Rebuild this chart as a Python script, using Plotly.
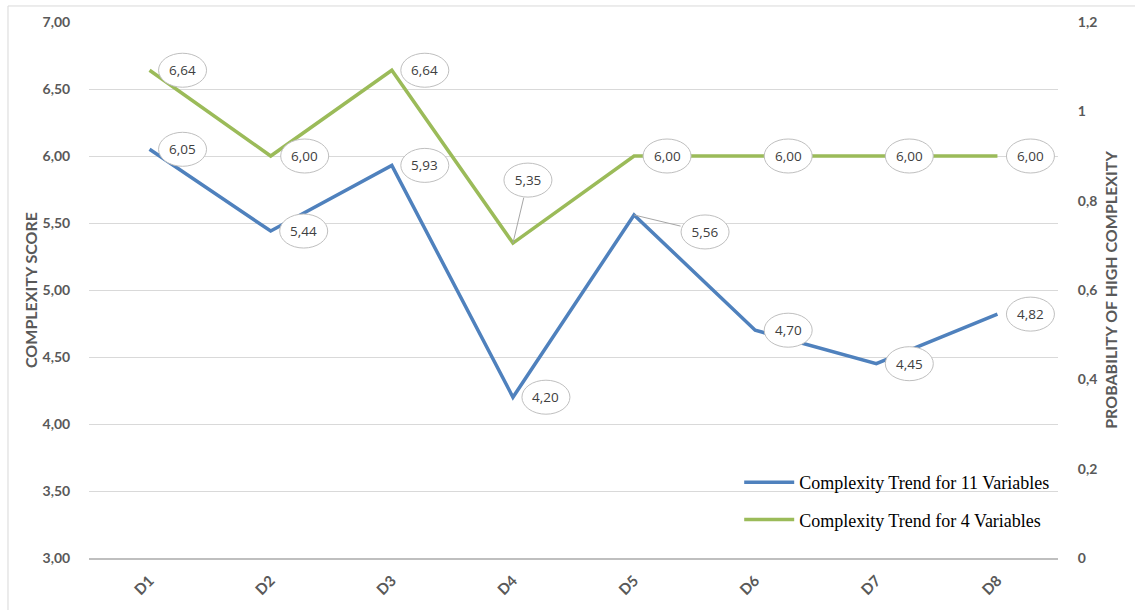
import plotly.graph_objects as go

categories = ["D1", "D2", "D3", "D4", "D5", "D6", "D7", "D8"]
trend_11 = [6.05, 5.44, 5.93, 4.20, 5.56, 4.70, 4.45, 4.82]
trend_4 = [6.64, 6.00, 6.64, 5.35, 6.00, 6.00, 6.00, 6.00]
left_ticks = [3.0, 3.5, 4.0, 4.5, 5.0, 5.5, 6.0, 6.5, 7.0]
right_ticks = [0, 0.2, 0.4, 0.6, 0.8, 1.0, 1.2]

BLUE = "#4F81BD"
GREEN = "#9BBB59"
GRAY_TXT = "#595959"

# label offsets in screen pixels (dx right, dy down); leader=True draws a connector
label_pos_11 = [(33, 0, False), (33, 0, False), (33, 0, False), (33, 0, False),
                (71, 17, True), (33, 0, False), (33, 0, False), (33, 0, False)]
label_pos_4 = [(33, 0, False), (34, 0, False), (33, 0, False), (15, -63, True),
               (33, 0, False), (33, 0, False), (33, 0, False), (33, 0, False)]

fig = go.Figure()
fig.add_trace(go.Scatter(x=categories, y=trend_11, mode="lines",
                         name="Complexity Trend for 11 Variables",
                         line=dict(color=BLUE, width=3.5), legendgroup="a"))
fig.add_trace(go.Scatter(x=categories, y=trend_4, mode="lines",
                         name="Complexity Trend for 4 Variables",
                         line=dict(color=GREEN, width=3.5), legendgroup="b"))
# empty trace to anchor the secondary axis
fig.add_trace(go.Scatter(x=[], y=[], yaxis="y2", showlegend=False, hoverinfo="skip"))

shapes = []
annotations = []
EW, EH = 24, 17
lblfont = dict(family="Open Sans", size=13.5, color="#404040")
for series, offsets in ((trend_11, label_pos_11), (trend_4, label_pos_4)):
    for i, (v, (dx, dy, leader)) in enumerate(zip(series, offsets)):
        shapes.append(dict(type="circle", xref="x", yref="y",
                           xsizemode="pixel", ysizemode="pixel",
                           xanchor=i, yanchor=v,
                           x0=dx - EW, x1=dx + EW, y0=-dy - EH, y1=-dy + EH,
                           line=dict(color="#BFBFBF", width=1),
                           fillcolor="white", layer="above"))
        txt = f"{v:.2f}".replace(".", ",")
        if leader:
            annotations.append(dict(x=i, y=v, xref="x", yref="y", text=txt,
                                    showarrow=True, arrowhead=0, arrowwidth=1,
                                    arrowcolor="#A6A6A6", ax=dx, ay=dy,
                                    width=46, height=32, standoff=0,
                                    font=lblfont))
        else:
            annotations.append(dict(x=i, y=v, xref="x", yref="y", text=txt,
                                    showarrow=False, xshift=dx, yshift=-dy,
                                    font=lblfont))

# outer chart border
shapes.append(dict(type="rect", xref="paper", yref="paper",
                   x0=-0.0836, x1=1.09, y0=-0.12, y1=1.0299,
                   line=dict(color="#D9D9D9", width=1), fillcolor="rgba(0,0,0,0)",
                   layer="below"))

tickfont = dict(family="Lato", size=14, color=GRAY_TXT, weight="bold")
xtickfont = dict(family="Lato", size=15, color=GRAY_TXT, weight="bold")
titlefont = dict(family="Lato", size=16, color=GRAY_TXT, weight="bold")

fig.update_layout(
    width=1135, height=610,
    margin=dict(l=89, r=77, t=22, b=52),
    paper_bgcolor="white", plot_bgcolor="white",
    separators=",.",
    shapes=shapes, annotations=annotations,
    xaxis=dict(type="category", tickangle=-45, tickfont=xtickfont,
               showline=True, linecolor="#BFBFBF", linewidth=2,
               showgrid=False, ticks="outside", ticklen=6,
               tickcolor="rgba(0,0,0,0)", range=[-0.5, 7.5]),
    yaxis=dict(range=[3, 7], tickvals=left_ticks, tickformat=".2f",
               tickfont=tickfont, showgrid=True, gridcolor="#D9D9D9",
               gridwidth=1, zeroline=False, showline=False,
               ticks="outside", ticklen=15, tickcolor="rgba(0,0,0,0)",
               title=dict(text="COMPLEXITY SCORE", font=titlefont, standoff=0)),
    yaxis2=dict(range=[0, 1.2], tickvals=right_ticks, overlaying="y",
                side="right", showgrid=False, zeroline=False, showline=False,
                tickfont=tickfont, ticks="outside", ticklen=16,
                tickcolor="rgba(0,0,0,0)",
                title=dict(text="PROBABILITY OF HIGH COMPLEXITY", font=titlefont, standoff=9)),
    legend=dict(x=0.671, y=0.1755, xanchor="left", yanchor="top",
                bgcolor="rgba(0,0,0,0)", itemwidth=50, tracegroupgap=11,
                font=dict(family="Liberation Serif", size=18, color="#000000")),
    showlegend=True,
)

fig.write_html("out.html")
